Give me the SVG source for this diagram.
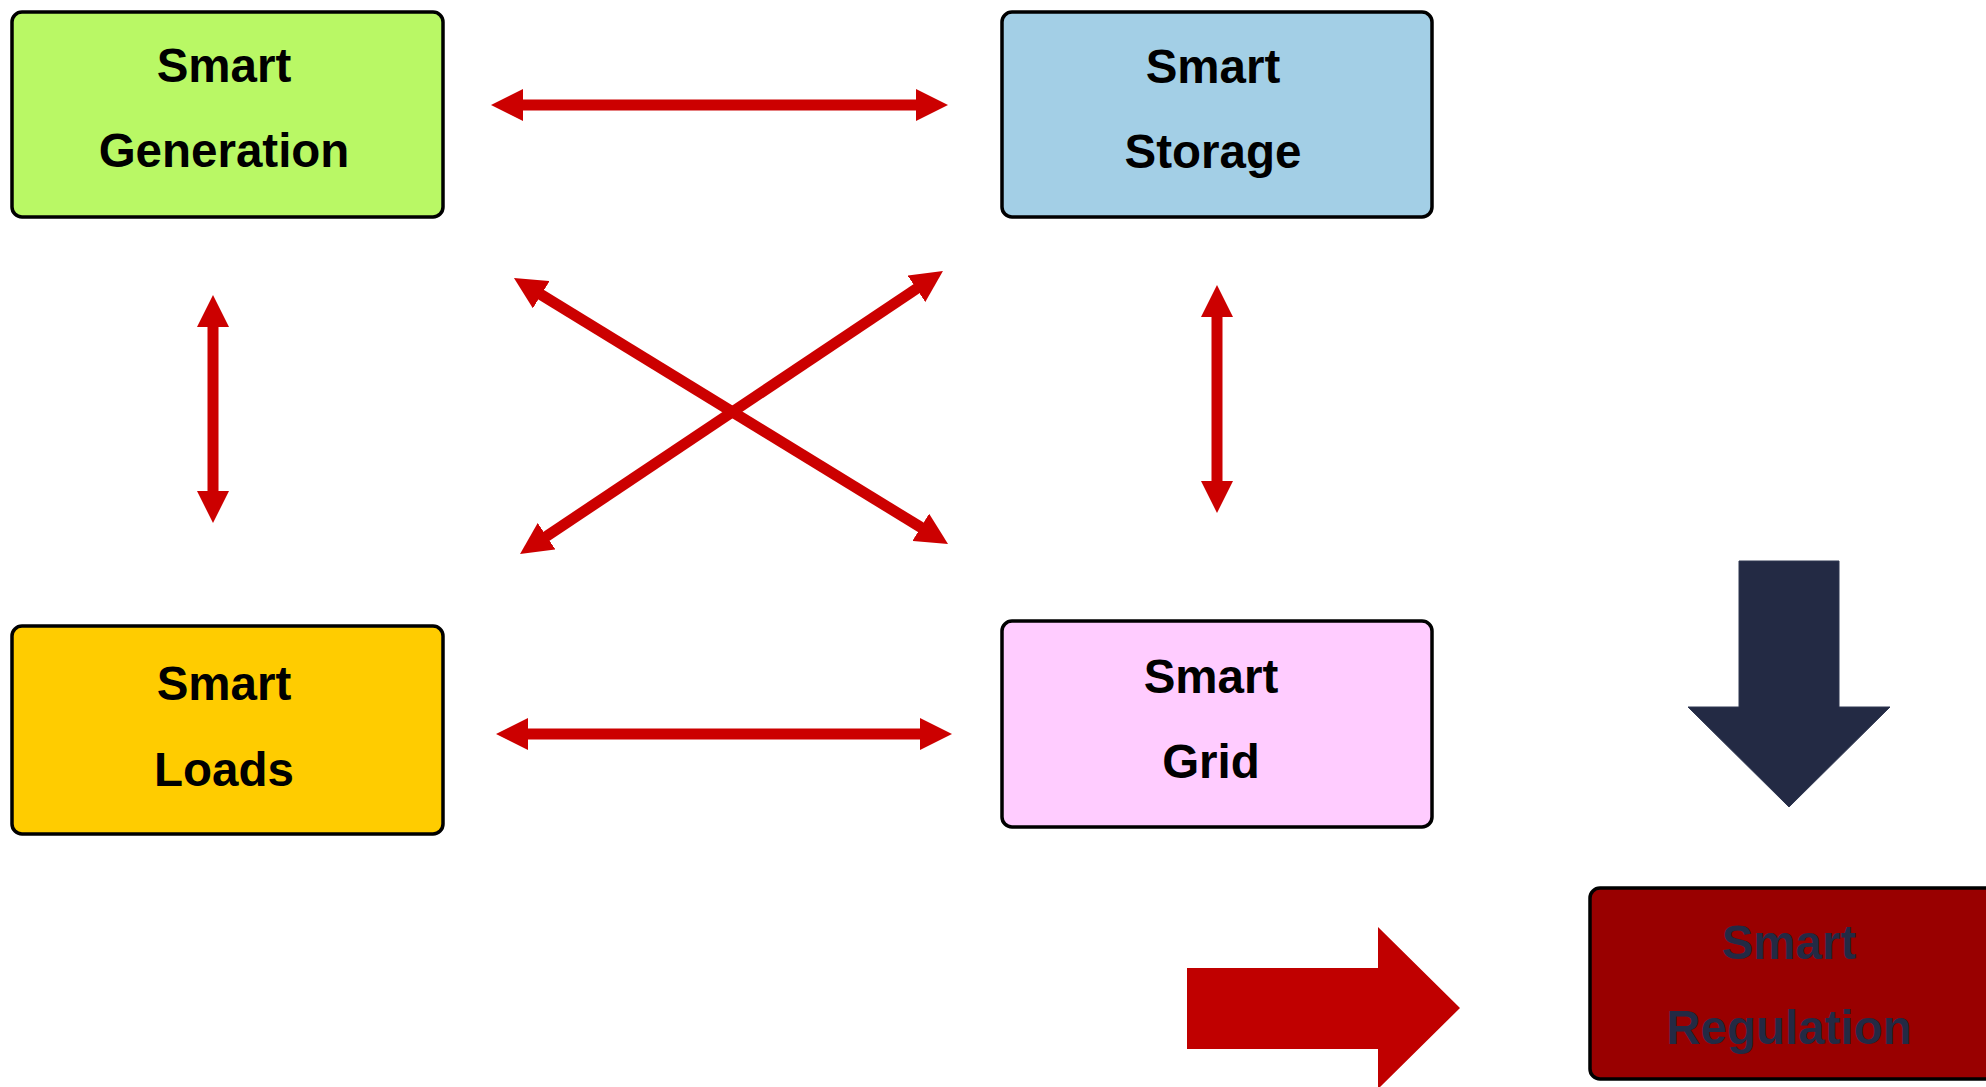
<svg xmlns="http://www.w3.org/2000/svg" width="1986" height="1087" viewBox="0 0 1986 1087">
  <style>
    .box { stroke: #000000; stroke-width: 3.5; }
    .label { font-family: "Liberation Sans", Arial, sans-serif; font-weight: bold; font-size: 47.5px; text-anchor: middle; fill: #000000; }
    .link { stroke: #CC0000; stroke-width: 11; fill: none; }
  </style>
  <defs>
    <marker id="head" markerUnits="userSpaceOnUse" markerWidth="32" markerHeight="32" viewBox="0 0 32 32" refX="1" refY="16" orient="auto-start-reverse">
      <path d="M0,0 L32,16 L0,32 Z" fill="#CC0000"/>
    </marker>
  </defs>
  <rect width="1986" height="1087" fill="#FFFFFF"/>

  <!-- connectors -->
  <g id="connectors">
    <line class="link" x1="522" y1="105" x2="917" y2="105" marker-start="url(#head)" marker-end="url(#head)"/>
    <line class="link" x1="527" y1="734" x2="921" y2="734" marker-start="url(#head)" marker-end="url(#head)"/>
    <line class="link" x1="213" y1="326" x2="213" y2="492" marker-start="url(#head)" marker-end="url(#head)"/>
    <line class="link" x1="1217" y1="316" x2="1217" y2="482" marker-start="url(#head)" marker-end="url(#head)"/>
    <line class="link" x1="540.4" y1="294.2" x2="921.6" y2="527.8" marker-start="url(#head)" marker-end="url(#head)"/>
    <line class="link" x1="545.8" y1="536.8" x2="917.2" y2="288.2" marker-start="url(#head)" marker-end="url(#head)"/>
    <!-- block arrows -->
    <path id="down-arrow" d="M1739,561 L1839,561 L1839,707 L1890,707 L1789,807 L1688,707 L1739,707 Z" fill="#232A44" stroke="#2E3650" stroke-width="1"/>
    <path id="right-arrow" d="M1187,968 L1378,968 L1378,927 L1460,1008 L1378,1089 L1378,1049 L1187,1049 Z" fill="#C00000"/>
  </g>

  <g id="smart-generation">
    <rect class="box" x="12" y="12" width="431" height="205" rx="10" fill="#B9F865"/>
    <text class="label" x="224" y="82">Smart</text>
    <text class="label" x="224" y="167">Generation</text>
  </g>

  <g id="smart-storage">
    <rect class="box" x="1002" y="12" width="430" height="205" rx="10" fill="#A3CFE6"/>
    <text class="label" x="1213" y="83">Smart</text>
    <text class="label" x="1213" y="168">Storage</text>
  </g>

  <g id="smart-loads">
    <rect class="box" x="12" y="626" width="431" height="208" rx="10" fill="#FFCC00"/>
    <text class="label" x="224" y="700">Smart</text>
    <text class="label" x="224" y="786">Loads</text>
  </g>

  <g id="smart-grid">
    <rect class="box" x="1002" y="621" width="430" height="206" rx="10" fill="#FFCCFF"/>
    <text class="label" x="1211" y="693">Smart</text>
    <text class="label" x="1211" y="778">Grid</text>
  </g>

  <g id="smart-regulation">
    <rect class="box" x="1590" y="888" width="420" height="191" rx="10" fill="#990000"/>
    <text class="label" x="1789" y="959" style="fill:#232A44">Smart</text>
    <text class="label" x="1789" y="1044" style="fill:#232A44">Regulation</text>
  </g>
</svg>
